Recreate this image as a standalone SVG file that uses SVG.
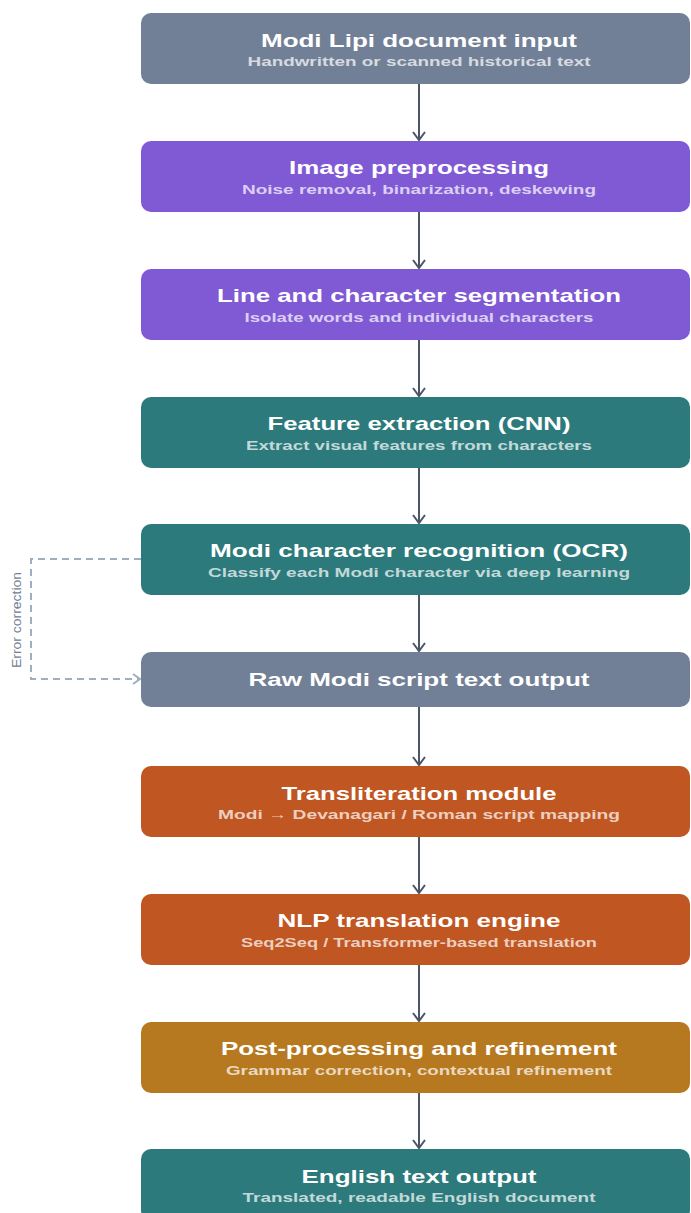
<svg xmlns="http://www.w3.org/2000/svg" width="691" height="1213" viewBox="0 0 691 1213">
<style>
.box{stroke:none}
.t{font-family:"Liberation Sans",Arial,sans-serif;font-weight:bold;font-size:19px;fill:#ffffff;text-anchor:middle}
.s{font-family:"Liberation Sans",Arial,sans-serif;font-weight:bold;font-size:12.5px;fill:#ffffff;fill-opacity:0.72;text-anchor:middle}
.gray{fill:#718096}.purple{fill:#805ad5}.teal{fill:#2c7a7b}.orange{fill:#c05621}.amber{fill:#b7791f}
.flow{stroke:#4a5568;stroke-width:2;fill:none}
.dash{stroke:#a0aec0;stroke-width:2;fill:none;stroke-dasharray:7 5}
.lbl{font-family:"Liberation Sans",Arial,sans-serif;font-size:12px;fill:#718096;text-anchor:middle}
</style>
<defs>
<marker id="ah" markerWidth="14" markerHeight="14" refX="10" refY="7" orient="auto" markerUnits="userSpaceOnUse">
<path d="M2,1 L10,7 L2,13" fill="none" stroke="#4a5568" stroke-width="2"/>
</marker>
<marker id="ahd" markerWidth="14" markerHeight="14" refX="10" refY="7" orient="auto" markerUnits="userSpaceOnUse">
<path d="M3,2 L10,7 L3,12" fill="none" stroke="#a0aec0" stroke-width="2"/>
</marker>
</defs>
<rect width="691" height="1213" fill="#ffffff"/>
<g id="connectors">
<line class="flow" x1="419" y1="84" x2="419" y2="140" marker-end="url(#ah)"/>
<line class="flow" x1="419" y1="212" x2="419" y2="268" marker-end="url(#ah)"/>
<line class="flow" x1="419" y1="340" x2="419" y2="396" marker-end="url(#ah)"/>
<line class="flow" x1="419" y1="468" x2="419" y2="523" marker-end="url(#ah)"/>
<line class="flow" x1="419" y1="595" x2="419" y2="651" marker-end="url(#ah)"/>
<line class="flow" x1="419" y1="707" x2="419" y2="765" marker-end="url(#ah)"/>
<line class="flow" x1="419" y1="837" x2="419" y2="893" marker-end="url(#ah)"/>
<line class="flow" x1="419" y1="965" x2="419" y2="1021" marker-end="url(#ah)"/>
<line class="flow" x1="419" y1="1093" x2="419" y2="1148" marker-end="url(#ah)"/>
<path class="dash" d="M141,559 H31 V679 H140" marker-end="url(#ahd)"/>
<text class="lbl" transform="translate(21,620) rotate(-90)" textLength="96" lengthAdjust="spacingAndGlyphs">Error correction</text>
</g>
<g id="n1"><rect class="gray" x="141" y="13" width="549" height="71" rx="10"/>
<text class="t" x="419" y="47" textLength="316" lengthAdjust="spacingAndGlyphs">Modi Lipi document input</text>
<text class="s" x="419" y="66" textLength="343" lengthAdjust="spacingAndGlyphs">Handwritten or scanned historical text</text></g>
<g id="n2"><rect class="purple" x="141" y="141" width="549" height="71" rx="10"/>
<text class="t" x="419" y="174" textLength="260" lengthAdjust="spacingAndGlyphs">Image preprocessing</text>
<text class="s" x="419" y="194" textLength="354" lengthAdjust="spacingAndGlyphs">Noise removal, binarization, deskewing</text></g>
<g id="n3"><rect class="purple" x="141" y="269" width="549" height="71" rx="10"/>
<text class="t" x="419" y="302" textLength="404" lengthAdjust="spacingAndGlyphs">Line and character segmentation</text>
<text class="s" x="419" y="322" textLength="349" lengthAdjust="spacingAndGlyphs">Isolate words and individual characters</text></g>
<g id="n4"><rect class="teal" x="141" y="397" width="549" height="71" rx="10"/>
<text class="t" x="419" y="430" textLength="303" lengthAdjust="spacingAndGlyphs">Feature extraction (CNN)</text>
<text class="s" x="419" y="450" textLength="346" lengthAdjust="spacingAndGlyphs">Extract visual features from characters</text></g>
<g id="n5"><rect class="teal" x="141" y="524" width="549" height="71" rx="10"/>
<text class="t" x="419" y="557" textLength="418" lengthAdjust="spacingAndGlyphs">Modi character recognition (OCR)</text>
<text class="s" x="419" y="577" textLength="422" lengthAdjust="spacingAndGlyphs">Classify each Modi character via deep learning</text></g>
<g id="n6"><rect class="gray" x="141" y="652" width="549" height="55" rx="10"/>
<text class="t" x="419" y="686" textLength="341" lengthAdjust="spacingAndGlyphs">Raw Modi script text output</text></g>
<g id="n7"><rect class="orange" x="141" y="766" width="549" height="71" rx="10"/>
<text class="t" x="419" y="800" textLength="275" lengthAdjust="spacingAndGlyphs">Transliteration module</text>
<text class="s" x="419" y="819" textLength="402" lengthAdjust="spacingAndGlyphs">Modi → Devanagari / Roman script mapping</text></g>
<g id="n8"><rect class="orange" x="141" y="894" width="549" height="71" rx="10"/>
<text class="t" x="419" y="927" textLength="283" lengthAdjust="spacingAndGlyphs">NLP translation engine</text>
<text class="s" x="419" y="947" textLength="356" lengthAdjust="spacingAndGlyphs">Seq2Seq / Transformer-based translation</text></g>
<g id="n9"><rect class="amber" x="141" y="1022" width="549" height="71" rx="10"/>
<text class="t" x="419" y="1055" textLength="396" lengthAdjust="spacingAndGlyphs">Post-processing and refinement</text>
<text class="s" x="419" y="1075" textLength="386" lengthAdjust="spacingAndGlyphs">Grammar correction, contextual refinement</text></g>
<g id="n10"><rect class="teal" x="141" y="1149" width="549" height="71" rx="10"/>
<text class="t" x="419" y="1183" textLength="235" lengthAdjust="spacingAndGlyphs">English text output</text>
<text class="s" x="419" y="1202" textLength="353" lengthAdjust="spacingAndGlyphs">Translated, readable English document</text></g>
</svg>
